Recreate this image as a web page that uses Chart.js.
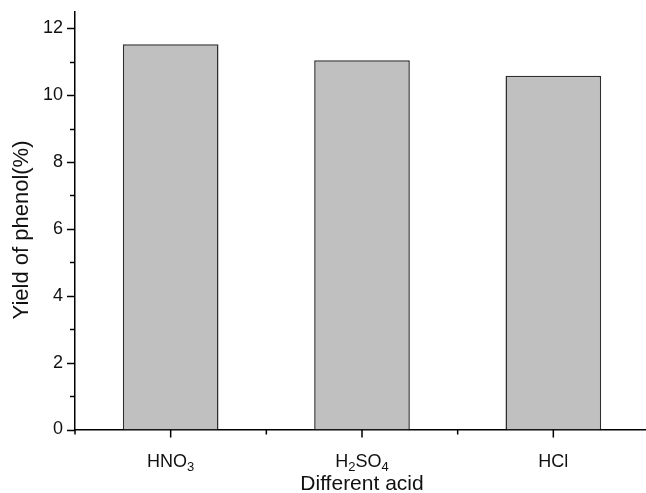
<!DOCTYPE html>
<html lang="en">
<head>
    <meta charset="UTF-8">
    <title>Yield of phenol</title>
    <script src="https://cdn.jsdelivr.net/npm/chart.js@4.4.0/dist/chart.umd.min.js"></script>
    <style>
        html, body { margin: 0; padding: 0; background: #fff; overflow: hidden; }
        #wrap { width: 660px; height: 493px; }
    </style>
</head>
<body>
<div id="wrap">
    <canvas id="barChart" width="660" height="493"></canvas>
</div>
<script>
    // data
    // each label is split as [text, subscript, text, subscript ...]
    const acids = [['HNO', '3'], ['H', '2', 'SO', '4'], ['HCl']];
    const yields = [11.52, 11.04, 10.58];
    const yTicks = [0, 1, 2, 3, 4, 5, 6, 7, 8, 9, 10, 11, 12];
    const yMin = 0;
    const yMax = 12.5;
    const yLabelEvery = 2;
    const yTitle = 'Yield of phenol(%)';
    const xTitle = 'Different acid';

    const font = 'Liberation Sans, Arial, sans-serif';

    // tick marks, category labels and the y title
    const axisDecor = {
        id: 'axisDecor',
        afterDraw(chart) {
            const ctx = chart.ctx;
            const x = chart.scales.x;
            const y = chart.scales.y;
            ctx.save();
            ctx.strokeStyle = '#000';
            ctx.lineWidth = 1.5;
            ctx.beginPath();
            y.ticks.forEach(t => {
                const py = Math.round(y.getPixelForValue(t.value)) + 0.5;
                const len = t.value % yLabelEvery === 0 ? 8 : 5;
                ctx.moveTo(x.left - len, py);
                ctx.lineTo(x.left, py);
            });
            const half = (x.getPixelForValue(1) - x.getPixelForValue(0)) / 2;
            for (let i = 0; i < acids.length; i++) {
                const px = x.getPixelForValue(i);
                ctx.moveTo(px, y.bottom);
                ctx.lineTo(px, y.bottom + 8);
                ctx.moveTo(px - half, y.bottom);
                ctx.lineTo(px - half, y.bottom + 5);
            }
            ctx.stroke();

            // category labels with real subscripts
            ctx.fillStyle = '#111';
            ctx.textBaseline = 'alphabetic';
            ctx.textAlign = 'left';
            const big = '18px ' + font, small = '13px ' + font;
            acids.forEach((parts, i) => {
                let w = 0;
                parts.forEach((p, k) => {
                    ctx.font = k % 2 ? small : big;
                    w += ctx.measureText(p).width;
                });
                let px = x.getPixelForValue(i) - w / 2;
                const base = y.bottom + 37;
                parts.forEach((p, k) => {
                    ctx.font = k % 2 ? small : big;
                    ctx.fillText(p, px, base + (k % 2 ? 4 : 0));
                    px += ctx.measureText(p).width;
                });
            });

            // y title
            ctx.translate(22, 230);
            ctx.rotate(-Math.PI / 2);
            ctx.textAlign = 'center';
            ctx.textBaseline = 'middle';
            ctx.font = '22px ' + font;
            ctx.fillText(yTitle, 0, 0);
            ctx.restore();
        }
    };

    new Chart(document.getElementById('barChart'), {
        type: 'bar',
        data: {
            labels: acids.map(a => a.join('')),
            datasets: [{
                data: yields,
                backgroundColor: '#c0c0c0',
                borderColor: '#2e2e2e',
                borderWidth: 1.5,
                borderSkipped: 'bottom',
                categoryPercentage: 1,
                barPercentage: 0.5
            }]
        },
        options: {
            responsive: false,
            animation: false,
            layout: {padding: {top: 11.5, right: 11, left: 0, bottom: 0}},
            plugins: {
                legend: {display: false},
                tooltip: {enabled: false}
            },
            scales: {
                x: {
                    grid: {display: false},
                    border: {display: true, color: '#000', width: 1.5},
                    ticks: {display: false},
                    title: {
                        display: true,
                        text: xTitle,
                        color: '#111',
                        font: {family: font, size: 21},
                        padding: {top: 0, bottom: -4}
                    },
                    afterFit(scale) {
                        scale.height = 63.5;
                        scale.paddingLeft = 0;
                        scale.paddingRight = 0;
                    }
                },
                y: {
                    min: yMin,
                    max: yMax,
                    grid: {display: false},
                    border: {display: true, color: '#000', width: 1.5},
                    afterBuildTicks(scale) {
                        scale.ticks = yTicks.map(v => ({value: v}));
                    },
                    ticks: {
                        autoSkip: false,
                        color: '#111',
                        font: {family: font, size: 18},
                        padding: 4,
                        callback: v => (v % yLabelEvery === 0 ? v : '')
                    },
                    afterFit(scale) {
                        scale.width = 75;
                        scale.paddingTop = 0;
                        scale.paddingBottom = 0;
                    }
                }
            }
        },
        plugins: [axisDecor]
    });
</script>
</body>
</html>
